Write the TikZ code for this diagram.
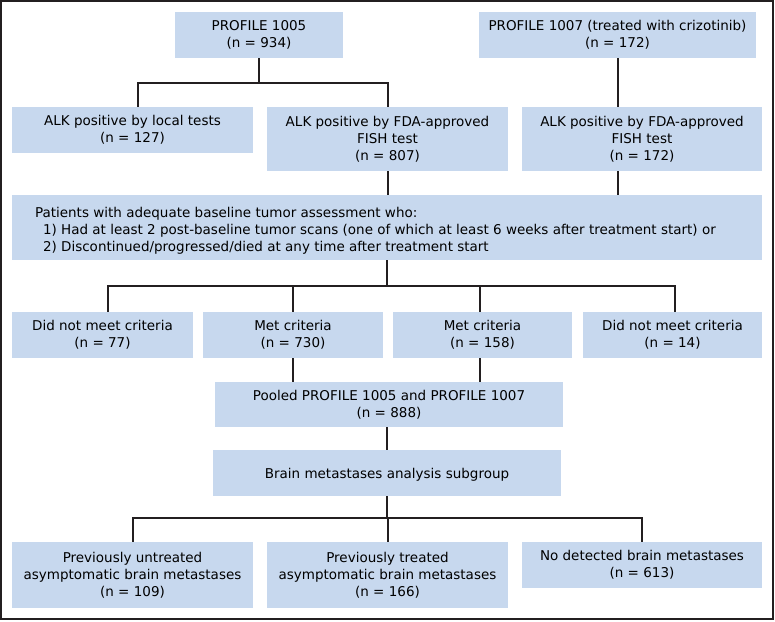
\documentclass[tikz,border=0pt]{standalone}
\usepackage{fontspec}
\setmainfont{DejaVu Sans}
\definecolor{boxblue}{RGB}{199,216,238}
\definecolor{linec}{RGB}{35,31,32}
\tikzset{
  box/.style={fill=boxblue, draw=none, align=center, inner sep=0pt,
    font=\fontsize{13.5}{17}\selectfont,
    execute at begin node={\rule{0pt}{14pt}}},
  txt/.style={align=left, inner sep=0pt, font=\fontsize{13.5}{17}\selectfont},
  conn/.style={draw=linec, line width=2pt, line join=miter},
}
\newcommand\mkbox[6]{%
  \node[box, minimum width={(#4-#2)*1pt}, minimum height={(#5-#3)*1pt}]
    (#1) at ({(#2+#4)/2},{(#3+#5)/2}) {#6};}
\begin{document}
\begin{tikzpicture}[x=1pt,y=-1pt]
\useasboundingbox (0,0) rectangle (775,621);
\fill[white] (0,0) rectangle (775,621);
\draw[line width=1.5pt, draw=linec] (1,1) rectangle (773,619);

\mkbox{p1005}{175}{12}{343}{58}{PROFILE 1005\\(n = 934)}
\mkbox{p1007}{479}{12}{756}{58}{PROFILE 1007 (treated with crizotinib)\\(n = 172)}
\mkbox{local}{12}{107}{253}{153}{ALK positive by local tests\\(n = 127)}
\mkbox{fdaA}{267}{107}{508}{171}{ALK positive by FDA-approved\\FISH test\\(n = 807)}
\mkbox{fdaB}{522}{107}{762}{171}{ALK positive by FDA-approved\\FISH test\\(n = 172)}
\node[box, execute at begin node={}, minimum width=750pt, minimum height=65pt] (patients) at (387,227.5) {};
\node[txt, anchor=west] (patientstxt) at ([xshift=23pt,yshift=-3pt]patients.west)
  {Patients with adequate baseline tumor assessment who:\\
   \hspace*{8pt}1) Had at least 2 post-baseline tumor scans (one of which at least 6 weeks after treatment start) or\\
   \hspace*{8pt}2) Discontinued/progressed/died at any time after treatment start};
\mkbox{dnmA}{12}{312}{193}{358}{Did not meet criteria\\(n = 77)}
\mkbox{metA}{203}{312}{383}{358}{Met criteria\\(n = 730)}
\mkbox{metB}{393}{312}{572}{358}{Met criteria\\(n = 158)}
\mkbox{dnmB}{583}{312}{762}{358}{Did not meet criteria\\(n = 14)}
\mkbox{pooled}{215}{382}{563}{427}{Pooled PROFILE 1005 and PROFILE 1007\\(n = 888)}
\mkbox{brain}{213}{450}{561}{496}{Brain metastases analysis subgroup}
\mkbox{untr}{12}{542}{253}{608}{Previously untreated\\asymptomatic brain metastases\\(n = 109)}
\mkbox{tr}{267}{542}{508}{608}{Previously treated\\asymptomatic brain metastases\\(n = 166)}
\mkbox{nodet}{522}{542}{762}{588}{No detected brain metastases\\(n = 613)}

\coordinate (hA) at (0,83);
\coordinate (hB) at (0,286);
\coordinate (hC) at (0,518);

\draw[conn] (p1005.south) -- (p1005.south |- hA);
\draw[conn] ([xshift=5.5pt]local.north) |- (fdaA.north |- hA) -- (fdaA.north);
\draw[conn] (p1007.south) -- (p1007.south |- fdaB.north);
\draw[conn] (fdaB.south -| p1007.south) -- (patients.north -| p1007.south);
\draw[conn] (fdaA.south) -- (fdaA.south |- patients.north);

\draw[conn] (patients.south) -- (patients.south |- hB);
\draw[conn] ([xshift=5.5pt]dnmA.north) |- ([xshift=2.5pt]dnmB.north |- hB) -- ([xshift=2.5pt]dnmB.north);
\draw[conn] (metA.north) -- (metA.north |- hB);
\draw[conn] ([xshift=-2.5pt]metB.north) -- ([xshift=-2.5pt]metB.north |- hB);
\draw[conn] (metA.south) -- (metA.south |- pooled.north);
\draw[conn] ([xshift=-2.5pt]metB.south) -- ([xshift=-2.5pt]metB.south |- pooled.north);
\draw[conn] (brain.north |- pooled.south) -- (brain.north);

\draw[conn] (brain.south) -- (brain.south |- hC);
\draw[conn] (untr.north) |- (nodet.north |- hC) -- (nodet.north);
\draw[conn] (tr.north) -- (tr.north |- hC);
\end{tikzpicture}
\end{document}
